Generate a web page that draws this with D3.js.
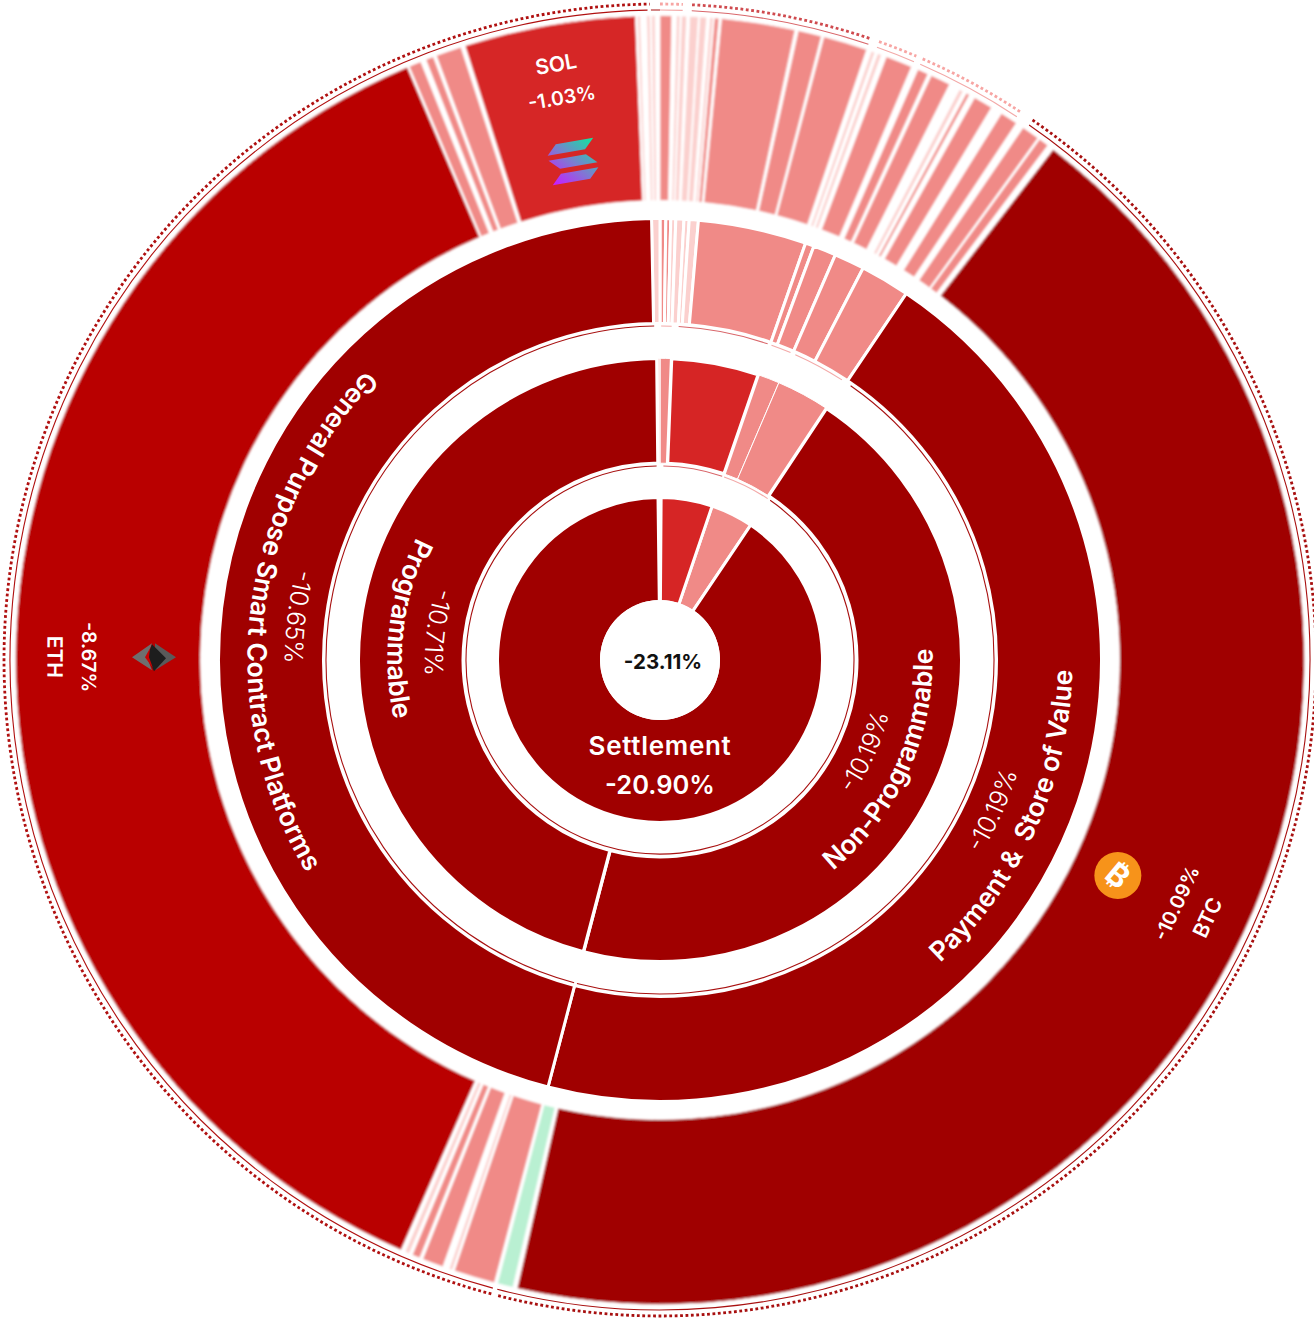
<!DOCTYPE html>
<html><head><meta charset="utf-8">
<script src="https://cdn.jsdelivr.net/npm/d3@7/dist/d3.min.js"></script>
<style>html,body{margin:0;padding:0;background:#fff}svg{display:block}text{font-family:Inter,"Noto Sans",sans-serif}</style>
</head><body><svg id="c" width="1314" height="1319"></svg>
<script>
// ---- data: market-cap weights, clockwise from twelve o'clock (sum 360) ----
const settlementValues=[.4,18.3,15.2,325.4,.7];
const settlementTones=["pale","red","light","dark","pale"];
const typeValues=[2.2,16.8,4.2,10.3,161.2,164.7,.6];
const typeTones=["light","red","light","light","dark","dark","pale"];
const sectorValues=[.76,.64,.66,1.06,.68,1.2,14.25,1.15,3,4,6.5,160.8,164.2,1.1];
const sectorTones=["light","light","pale","pale","pale","pale","light","light","light","light","light","dark","dark","pale"];
const assetValues=[1.04,.44,.3,.14,.45,.29,.75,.14,.6,.3,.29,.11,.4,.24,6.6,.31,2.1,.24,3.96,.45,.32,.28,.35,.47,2.4,.63,.97,.33,1.8,1,.36,.34,.3,.53,1.73,1.04,1.57,.73,1.6,.2,.9,.6,155.2,.4,1.4,.3,3.7,.2,.3,.6,1.9,.3,.7,.3,.4,.4,133.2,.2,1.1,.5,.7,.3,2.3,.4,15.4,.2,.25,.57,.29,.15,.3,.44];
const assetTones=["light","gap","pale","gap","pale","gap","pale","gap","pale","gap","pale","gap","light","gap","light","gap","light","gap","light","gap","pale","gap","pale","gap","light","gap","light","gap","light","gap","pale","gap","light","gap","light","gap","light","gap","light","gap","light","gap","dark","gap","green","gap","light","gap","pale","gap","light","gap","light","gap","pale","gap","eth","gap","light","gap","light","gap","light","gap","red","gap","pale","gap","pale","gap","pale","gap"];
const ringLabels=[
 {ring:"type",index:5,name:"Programmable",value:"-10.71%"},
 {ring:"type",index:4,name:"Non-Programmable",value:"-10.19%"},
 {ring:"sector",index:12,name:"General Purpose Smart Contract Platforms",value:"-10.65%"},
 {ring:"sector",index:11,name:"Payment &\u00a0 Store of Value",value:"-10.19%"}];
const assetLabels=[{index:56,name:"ETH",value:"-8.67%",icon:"eth"},{index:42,name:"BTC",value:"-10.09%",icon:"btc"},{index:64,name:"SOL",value:"-1.03%",icon:"sol"}];
const totalReturn="-23.11%", settlementName="Settlement", settlementReturn="-20.90%";
// outline groups [from, to, tone]
const innerOutline=[[1,18.7,"redline"],[19.3,33.7,"paleline"],[34.6,359,"darkline"]];
const typeOutline=[[.2,2,"paleline"],[3.2,18.8,"redline"],[19.5,23,"paleline"],[23.9,33,"paleline"],[34.8,194.4,"darkline"],[194.9,359,"darkline"]];
const outerOutline=[[359.2,360,"darkline"],[0,2,"paleline"],[2.8,18.7,"redline"],[19.5,23,"paleline"],[23.6,33.3,"paleline"],[34.6,194.5,"darkline"],[194.9,358.9,"ethline"]];
const dotOutline=[[0,2,"paledots"],[2.8,18.7,"reddots"],[19.5,23,"paledots"],[23.6,33.3,"paledots"],[34.6,194.5,"darkline"],[194.9,359.1,"ethline"]];

const colors={dark:"#a00000",eth:"#b90000",red:"#d62525",light:"#f08a87",pale:"#fbd0ce",green:"#b9f0d2",
 redline:"#d9666a",paleline:"#f3a9a8",darkline:"#a81010",ethline:"#b01010",paledots:"#f7a5a3",reddots:"#cf4a4e"};

const cx=660,cy=660;
const angle=d3.scaleLinear().domain([0,360]).range([0,2*Math.PI]);
const svg=d3.select("#c");
const defs=svg.append("defs");
defs.append("filter").attr("id","soft").attr("x","-5%").attr("y","-5%").attr("width","110%").attr("height","110%")
  .append("feGaussianBlur").attr("stdDeviation",1.1);
const g=svg.append("g").attr("transform",`translate(${cx},${cy})`);

function layout(values,tones){
  const cum=[0,...d3.cumsum(values)];
  return values.map((v,i)=>({i,v,tone:tones[i],a0:cum[i],a1:cum[i+1]}));
}
const rings={
 settlement:{items:layout(settlementValues,settlementTones),r0:60,r1:161,stroke:3,lightStroke:3},
 type:{items:layout(typeValues,typeTones),r0:198.5,r1:300,stroke:3.4,lightStroke:1},
 sector:{items:layout(sectorValues,sectorTones),r0:338,r1:440,stroke:3,lightStroke:3},
 asset:{items:layout(assetValues,assetTones),r0:460,r1:644,stroke:.8,lightStroke:.8,soft:true}
};
Object.values(rings).reverse().forEach(R=>{
  const arc=d3.arc().innerRadius(R.r0-R.stroke/2).outerRadius(R.r1+R.stroke/2)
    .startAngle(d=>angle(d.a0)).endAngle(d=>angle(d.a1));
  const rank=t=>(t==="light"||t==="pale")?0:1;
  const items=R.items.filter(d=>d.tone!=="gap").sort((a,b)=>rank(a.tone)-rank(b.tone));
  const lay=g.append("g"); if(R.soft) lay.attr("filter","url(#soft)");
  lay.selectAll("path").data(items).join("path").attr("d",arc)
    .attr("fill",d=>colors[d.tone]).attr("stroke","#fff")
    .attr("stroke-width",d=>rank(d.tone)?R.stroke:R.lightStroke);
});
function arcLine(r,a0,a1,ccw){const p=d3.path();
  p.arc(0,0,r,angle(a0)-Math.PI/2,angle(a1)-Math.PI/2,!!ccw);return p.toString();}
function outline(list,r,w,dash){
  g.append("g").selectAll("path").data(list).join("path").attr("d",d=>arcLine(r,d[0],d[1]))
   .attr("fill","none").attr("stroke",d=>colors[d[2]]).attr("stroke-width",w).attr("stroke-dasharray",dash||null);
}
outline(innerOutline,194,1.1);
outline(typeOutline,334,1.1);
outline(outerOutline,650,1.1);
outline(dotOutline,656,2.8,"2.8 2.6");

// centre
g.append("circle").attr("r",60).attr("fill","#fff");
const txt=(sel,s,size,weight,fill)=>sel.append("text").text(s).attr("font-size",size).attr("font-weight",weight).attr("fill",fill).attr("text-anchor","middle");
txt(g,totalReturn,20.5,700,"#111").attr("x",3).attr("y",9);
txt(g,settlementName,26,600,"#fff").attr("y",95).attr("letter-spacing",.7);
txt(g,settlementReturn,25.5,600,"#fff").attr("y",134);

// curved labels
ringLabels.forEach((L,k)=>{
  const R=rings[L.ring], it=R.items[L.index], mid=(it.a0+it.a1)/2;
  const bold=L.ring==="sector"?403:263, thin=bold-37;
  [[L.name,bold,26.5,600],[L.value,thin,25,300]].forEach(([s,r,fs,w],j)=>{
    const id=`lab${k}_${j}`;
    defs.append("path").attr("id",id).attr("d",arcLine(r+fs*.36,mid+85,mid-85,true));
    const t=g.append("text").attr("font-size",fs).attr("font-weight",w).attr("fill","#fff").attr("text-anchor","middle");
    t.append("textPath").attr("href","#"+id).attr("startOffset","50%").text(s);
  });
});

// asset labels
const icons={
 eth(s){[["-22,0 -2,-14 -7,0 -2,13","#6e6e6e"],["22,0 1,-14 1,13","#5a5a5a"],["-2,-13 12,1 0,14 -7,0","#1d1d1d"],["-9,0 -4,-9 -5,0 -1,11","#c00"]].forEach(([p,f])=>s.append("polygon").attr("points",p).attr("fill",f));},
 btc(s){s.append("circle").attr("r",23.5).attr("fill","#f7931a");
   s.append("text").text("\u20bf").attr("font-family","DejaVu Sans").attr("font-size",31).attr("font-weight",700).attr("fill","#fff").attr("text-anchor","middle").attr("y",11).attr("transform","rotate(40)");},
 sol(s){const gr=defs.append("linearGradient").attr("id","solg").attr("gradientUnits","userSpaceOnUse").attr("x1",-22).attr("y1",20).attr("x2",22).attr("y2",-20);
   gr.append("stop").attr("offset",0).attr("stop-color","#c81cff");gr.append("stop").attr("offset",.5).attr("stop-color","#7a7fd0");gr.append("stop").attr("offset",1).attr("stop-color","#12e3a0");
   ["-14,-20 24,-20 14,-10 -24,-10","-24,-5 14,-5 24,5 -14,5","-14,10 24,10 14,20 -24,20"].forEach(p=>s.append("polygon").attr("points",p).attr("fill","url(#solg)"));}
};
assetLabels.forEach(L=>{
  const it=rings.asset.items[L.index], mid=(it.a0+it.a1)/2;
  const up=!(mid>60&&mid<300);
  const rot=up?(mid-360):(mid-180);
  const at=(r)=>{const a=angle(mid);return [r*Math.sin(a),-r*Math.cos(a)];};
  const [nx,ny]=at(605),[vx,vy]=at(571),[ix,iy]=at(506);
  txt(g,L.name,21,600,"#fff").attr("transform",`translate(${nx},${ny}) rotate(${rot}) translate(0,7.5)`);
  txt(g,L.value,19.5,600,"#fff").attr("transform",`translate(${vx},${vy}) rotate(${rot}) translate(0,7)`);
  const s=g.append("g").attr("transform",`translate(${ix},${iy}) rotate(${L.icon==="sol"?rot:0})`);
  icons[L.icon](s);
});
</script></body></html>
